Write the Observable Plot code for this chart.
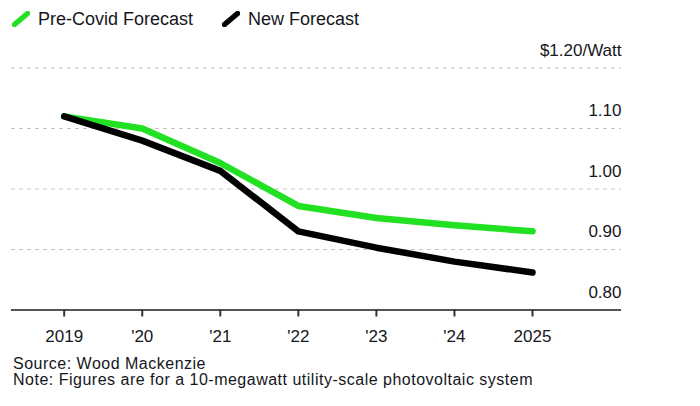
<!DOCTYPE html>
<html>
<head>
<meta charset="utf-8">
<script src="https://cdn.jsdelivr.net/npm/d3@7"></script>
<script src="https://cdn.jsdelivr.net/npm/@observablehq/plot@0.6"></script>
<style>
  html, body { margin: 0; padding: 0; background: #fff; }
  body { width: 700px; height: 406px; overflow: hidden; font-family: "Liberation Sans", Arial, sans-serif; color: #16161c; }
  #legend { height: 36px; display: flex; align-items: center; padding-left: 12px; padding-top: 2px; box-sizing: border-box; font-size: 18px; }
  #legend .item { display: flex; align-items: center; margin-right: 29px; }
  #legend svg { margin-right: 8px; }
  #caption { font-size: 16px; line-height: 16px; letter-spacing: 0.5px; padding-left: 13px; padding-top: 0px; color: #16161c; }
</style>
</head>
<body>
<div id="legend"></div>
<div id="chart"></div>
<div id="caption"></div>
<script>
const years = [2019, 2020, 2021, 2022, 2023, 2024, 2025];
const xLabels = ["2019", "'20", "'21", "'22", "'23", "'24", "2025"];
const preCovid = [1.12, 1.10, 1.043, 0.972, 0.952, 0.94, 0.93];
const newForecast = [1.12, 1.08, 1.03, 0.93, 0.903, 0.88, 0.862];
const yTicks = [0.8, 0.9, 1.0, 1.1, 1.2];
const yLabels = ["0.80", "0.90", "1.00", "1.10", "$1.20/Watt"];
const seriesNames = ["Pre-Covid Forecast", "New Forecast"];
const seriesColors = ["#22e022", "#000000"];
const sourceText = "Source: Wood Mackenzie";
const noteText = "Note: Figures are for a 10-megawatt utility-scale photovoltaic system";

const data = [];
years.forEach((y, i) => {
  data.push({year: y, value: preCovid[i], series: seriesNames[0]});
  data.push({year: y, value: newForecast[i], series: seriesNames[1]});
});

// legend
const legend = document.getElementById("legend");
seriesNames.forEach((name, i) => {
  const item = document.createElement("div");
  item.className = "item";
  item.innerHTML = `<svg width="18" height="16"><line x1="2.5" y1="13.5" x2="15.5" y2="2.5" stroke="${seriesColors[i]}" stroke-width="5.5" stroke-linecap="round"/></svg><span>${name}</span>`;
  legend.appendChild(item);
});

const labelOf = new Map(years.map((y, i) => [y, xLabels[i]]));
const yLabelOf = new Map(yTicks.map((t, i) => [t, yLabels[i]]));

const plot = Plot.plot({
  width: 700,
  height: 320,
  marginLeft: 11,
  marginRight: 79,
  marginTop: 31.5,
  marginBottom: 46.5,
  style: { fontFamily: "Liberation Sans, Arial, sans-serif", fontSize: "17px", color: "#16161c", background: "#fff" },
  x: { type: "linear", domain: [2019, 2025], insetLeft: 52.7, insetRight: 89 },
  y: { domain: [0.8, 1.2] },
  color: { domain: seriesNames, range: seriesColors },
  marks: [
    Plot.ruleY(yTicks.filter(t => t > 0.8), { stroke: "#c4c4c4", strokeWidth: 1, strokeDasharray: "4,4" }),
    Plot.ruleY([0.8], { stroke: "#555", strokeWidth: 2 }),
    Plot.axisX({ ticks: years, tickFormat: d => labelOf.get(d), tickSize: 7, tickPadding: 13, stroke: "#333", strokeWidth: 2, fill: "#16161c", fontSize: 17, label: null }),
    Plot.axisY({ anchor: "right", ticks: yTicks, tickFormat: d => yLabelOf.get(Math.round(d * 10) / 10), tickSize: 0, tickPadding: 0, textAnchor: "end", dx: 0, dy: -17.5, fill: "#16161c", fontSize: 17, label: null }),
    Plot.line(data, { x: "year", y: "value", z: "series", stroke: "series", strokeWidth: 6.5, strokeLinecap: "round", strokeLinejoin: "round" })
  ]
});
document.getElementById("chart").appendChild(plot);

document.getElementById("caption").innerHTML = `<div>${sourceText}</div><div>${noteText}</div>`;
</script>
</body>
</html>
